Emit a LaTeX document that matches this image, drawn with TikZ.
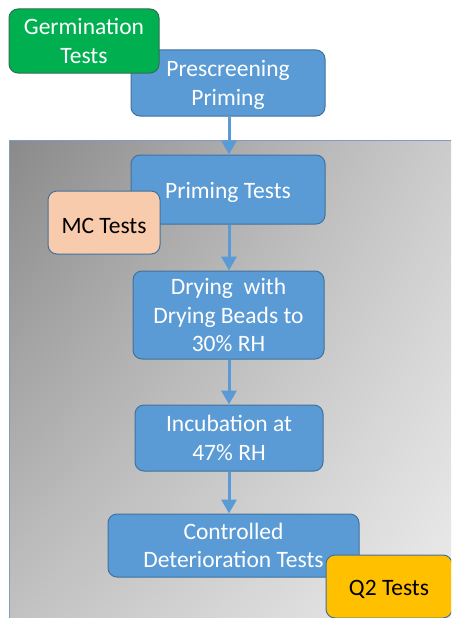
\documentclass[tikz,border=0pt]{standalone}
\usepackage{fontspec}
\setmainfont{Carlito}
\usetikzlibrary{arrows.meta,shadings}
\definecolor{stepblue}{HTML}{5B9BD5}
\definecolor{stepedge}{HTML}{41719C}
\definecolor{germgreen}{HTML}{00B050}
\definecolor{germedge}{HTML}{2F6F4F}
\definecolor{mcpeach}{HTML}{F8CBAD}
\definecolor{qgold}{HTML}{FFC000}
\definecolor{frameedge}{HTML}{7F9CC0}
\definecolor{shadeUL}{RGB}{138,138,138}
\definecolor{shadeUR}{RGB}{205,205,205}
\definecolor{shadeLL}{RGB}{195,195,195}
\definecolor{shadeLR}{RGB}{238,238,238}
\tikzset{
  box/.style={draw=stepedge, line width=1pt, rounded corners=9pt, align=center,
    inner sep=1pt, font=\fontsize{23.5}{28.5}\selectfont,
    execute at begin node={\rule{0pt}{22pt}}},
  % multi-line labels: a small gap above the first line lowers the block
  multiline/.style={execute at begin node={\rule{0pt}{22pt}}, text depth=0pt},
  stepbox/.style={box, fill=stepblue, text=white},
  flow/.style={draw=stepblue, line width=3pt,
    -{Triangle[length=14pt,width=15pt]}, shorten >=0pt}
}
\begin{document}
\begin{tikzpicture}[x=1pt,y=-1pt]
\clip (0,0) rectangle (451,618);
\fill[white] (0,0) rectangle (451,618);
% shaded panel holding the main test sequence
\shade[upper left=shadeUL, upper right=shadeUR,
       lower left=shadeLL, lower right=shadeLR]
  (9,140) rectangle (460,630);
\draw[frameedge, line width=1pt] (9,630) -- (9,140) -- (460,140);

\node[stepbox, multiline, minimum width=194pt, minimum height=66pt] (pre) at (228,83) {Prescreening\\Priming};
\node[box, multiline, fill=germgreen, draw=germedge, text=white, minimum width=150pt, minimum height=64pt] (germ) at (84,41) {Germination\\Tests};

\node[stepbox, minimum width=194pt, minimum height=69pt] (prim) at (228,189.5) {Priming Tests};
\node[box, fill=mcpeach, text=black, minimum width=112pt, minimum height=63pt] (mc) at (104,222.5) {MC Tests};

\node[stepbox, multiline, minimum width=191pt, minimum height=88pt] (dry) at (228.5,315) {Drying\ \ with\\Drying Beads to\\30\% RH};
\node[stepbox, multiline, minimum width=188pt, minimum height=66pt] (inc) at (229,438) {Incubation at\\47\% RH};
\node[stepbox, multiline, minimum width=251pt, minimum height=63pt] (cd) at (233.5,545.5) {Controlled\\Deterioration Tests};
\node[box, fill=qgold, text=black, minimum width=126pt, minimum height=63pt] (q2) at (389,586.5) {Q2 Tests};

\draw[flow] (pre.south -| 229,0) -- (prim.north -| 229,0);
\draw[flow] (prim.south -| 229,0) -- (dry.north -| 229,0);
\draw[flow] (dry.south -| 229,0) -- (inc.north -| 229,0);
\draw[flow] (inc.south -| 229,0) -- (cd.north -| 229,0);
\end{tikzpicture}
\end{document}
